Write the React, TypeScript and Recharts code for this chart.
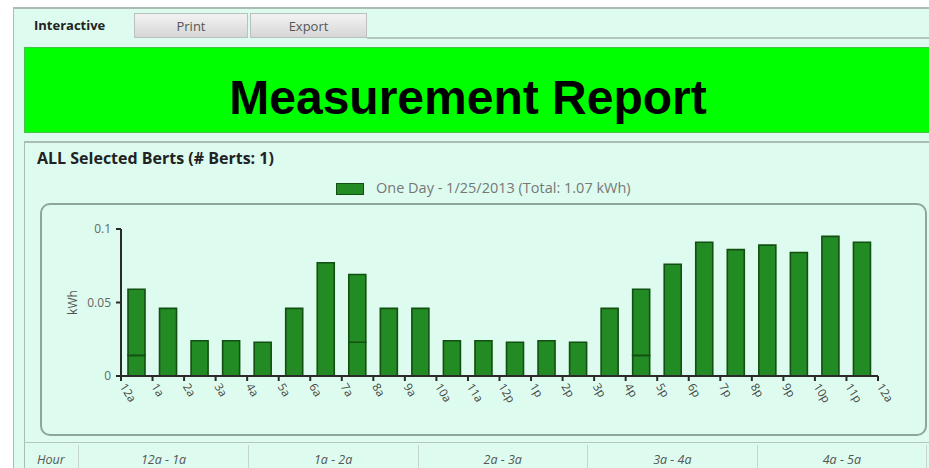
import { Bar, BarChart, XAxis, YAxis } from "recharts";

// boundary labels under the x axis (25 ticks for 24 hourly bars)
const hourLabels = [
  "12a", "1a", "2a", "3a", "4a", "5a", "6a", "7a", "8a", "9a", "10a", "11a",
  "12p", "1p", "2p", "3p", "4p", "5p", "6p", "7p", "8p", "9p", "10p", "11p", "12a",
];

// kWh per hour
const usageKwh = [
  0.059, 0.046, 0.024, 0.024, 0.023, 0.046, 0.077, 0.069, 0.046, 0.046, 0.024, 0.024,
  0.023, 0.024, 0.023, 0.046, 0.059, 0.076, 0.091, 0.086, 0.089, 0.084, 0.095, 0.091,
];

// some bars show an inner divider (two readings stacked)
const dividerKwh: (number | null)[] = [
  0.014, null, null, null, null, null, null, 0.023, null, null, null, null,
  null, null, null, null, 0.014, null, null, null, null, null, null, null,
];

const yTicks = [0, 0.05, 0.1];
const xTicks = hourLabels.map((_, i) => i);

const tabs = ["Interactive", "Print", "Export"];
const tableCols = ["12a - 1a", "1a - 2a", "2a - 3a", "3a - 4a", "4a - 5a"];

const legendText = "One Day - 1/25/2013 (Total: 1.07 kWh)";

const barFill = "#238b23";
const barStroke = "#124f12";
const mint = "#ddfcef";
const uiFont = '"Open Sans", "DejaVu Sans", sans-serif';

const data = usageKwh.map((v, i) => {
  const d = dividerKwh[i];
  return {
    pos: i + 0.5,
    low: d ?? v,
    high: d != null ? +(v - d).toFixed(3) : 0,
  };
});

const HourTick = ({ x, y, payload }: any) => (
  <g transform={`translate(${x + 1},${y + 2})`}>
    <text
      x={0}
      y={0}
      dy={3}
      transform="rotate(58)"
      textAnchor="start"
      fontSize={11.5}
      fontFamily={uiFont}
      fill="#444"
    >
      {hourLabels[payload.value]}
    </text>
  </g>
);

const KwhLabel = ({ viewBox }: any) => {
  const cx = viewBox.x + 32;
  const cy = viewBox.y + viewBox.height / 2;
  return (
    <text
      x={cx}
      y={cy}
      transform={`rotate(-90, ${cx}, ${cy})`}
      textAnchor="middle"
      dominantBaseline="central"
      fontSize={12}
      fontFamily={uiFont}
      fill="#555"
    >
      kWh
    </text>
  );
};

const abs = (s: React.CSSProperties): React.CSSProperties => ({ position: "absolute", ...s });

export default function App() {
  return (
    <div
      style={abs({
        left: 0,
        top: 0,
        width: 929,
        height: 468,
        overflow: "hidden",
        background: "#fff",
        fontFamily: uiFont,
      })}
    >
      {/* outer frame */}
      <div
        style={abs({
          left: 13,
          top: 7,
          width: 940,
          height: 480,
          background: mint,
          borderLeft: "1px solid #a9bdb3",
          borderTop: "2px solid #a9bdb3",
        })}
      />

      {/* tabs */}
      {tabs.map((t, i) => {
        const lefts = [24, 134, 250];
        const widths = [110, 114, 117];
        const active = i === 0;
        return (
          <div
            key={t}
            style={abs({
              left: lefts[i],
              top: 13,
              width: widths[i],
              height: 25,
              boxSizing: "border-box",
              background: active ? mint : "linear-gradient(#f3f3f3, #d6d6d6)",
              border: active ? "none" : "1px solid #b9c0bd",
              fontSize: 13,
              fontWeight: active ? 700 : 400,
              color: active ? "#222" : "#555",
              lineHeight: "25px",
              textAlign: active ? "left" : "center",
              paddingLeft: active ? 10 : 0,
            })}
          >
            {t}
          </div>
        );
      })}
      <div style={abs({ left: 367, top: 37, width: 570, height: 2, background: "#b5c6bd" })} />

      {/* banner */}
      <div
        style={abs({
          left: 24,
          top: 47,
          width: 920,
          height: 86,
          boxSizing: "border-box",
          background: "#00ff00",
          border: "1px solid #46c046",
        })}
      />
      <div
        style={abs({
          left: 24,
          top: 74,
          width: 888,
          textAlign: "center",
          fontFamily: '"Liberation Sans", Arial, sans-serif',
          fontWeight: 700,
          fontSize: 48,
          lineHeight: "48px",
          color: "#000",
        })}
      >
        Measurement Report
      </div>

      {/* panel */}
      <div
        style={abs({
          left: 24,
          top: 141,
          width: 920,
          height: 340,
          borderLeft: "1px solid #a9bdb3",
          borderTop: "2px solid #a9bdb3",
        })}
      />
      <div
        style={abs({
          left: 37,
          top: 149,
          fontSize: 16,
          lineHeight: "18px",
          fontWeight: 700,
          color: "#222",
          whiteSpace: "nowrap",
        })}
      >
        ALL Selected Berts (# Berts: 1)
      </div>

      {/* legend */}
      <div
        style={abs({
          left: 336,
          top: 183,
          width: 28,
          height: 12,
          boxSizing: "border-box",
          background: barFill,
          border: `1px solid ${barStroke}`,
        })}
      />
      <div
        style={abs({
          left: 376,
          top: 180,
          fontSize: 14.5,
          lineHeight: "16px",
          color: "#777",
          whiteSpace: "nowrap",
        })}
      >
        {legendText}
      </div>

      {/* chart box */}
      <div
        style={abs({
          left: 40,
          top: 203,
          width: 887,
          height: 233,
          boxSizing: "border-box",
          border: "2px solid #8fa59b",
          borderRadius: 10,
        })}
      />
      <div style={abs({ left: 40, top: 204 })}>
        <BarChart
          width={887}
          height={230}
          data={data}
          margin={{ top: 25, right: 49, bottom: 18, left: 0 }}
        >
          <XAxis
            type="number"
            dataKey="pos"
            domain={[0, 24]}
            ticks={xTicks}
            interval={0}
            height={40}
            tick={<HourTick />}
            tickSize={5}
            tickMargin={2}
            axisLine={{ stroke: "#2a2a2a", strokeWidth: 2 }}
            tickLine={{ stroke: "#2a2a2a", strokeWidth: 2 }}
          />
          <YAxis
            domain={[0, 0.1]}
            ticks={yTicks}
            width={81}
            tickSize={5}
            tickMargin={5}
            tick={{ fontSize: 12, fill: "#666", fontFamily: uiFont }}
            axisLine={{ stroke: "#2a2a2a", strokeWidth: 2 }}
            tickLine={{ stroke: "#2a2a2a", strokeWidth: 2 }}
            label={{ value: "kWh", content: <KwhLabel /> }}
          />
          <Bar
            dataKey="low"
            stackId="a"
            barSize={17}
            fill={barFill}
            stroke={barStroke}
            strokeWidth={1.6}
            isAnimationActive={false}
          />
          <Bar
            dataKey="high"
            stackId="a"
            barSize={17}
            fill={barFill}
            stroke={barStroke}
            strokeWidth={1.6}
            isAnimationActive={false}
          />
        </BarChart>
      </div>

      {/* hour table row */}
      <div style={abs({ left: 24, top: 442, width: 920, height: 1, background: "#b5c6bd" })} />
      <div
        style={abs({
          left: 37,
          top: 451,
          fontSize: 12.5,
          fontStyle: "italic",
          color: "#555",
        })}
      >
        Hour
      </div>
      <div style={abs({ left: 78, top: 445, width: 1, height: 23, background: "#c8d4ce" })} />
      {tableCols.map((c, i) => (
        <div key={c}>
          <div
            style={abs({
              left: 79 + i * 169.6,
              top: 451,
              width: 169,
              textAlign: "center",
              fontSize: 12.5,
              fontStyle: "italic",
              color: "#555",
            })}
          >
            {c}
          </div>
          <div
            style={abs({
              left: 248 + i * 169.6,
              top: 445,
              width: 1,
              height: 23,
              background: "#c8d4ce",
            })}
          />
        </div>
      ))}
    </div>
  );
}
